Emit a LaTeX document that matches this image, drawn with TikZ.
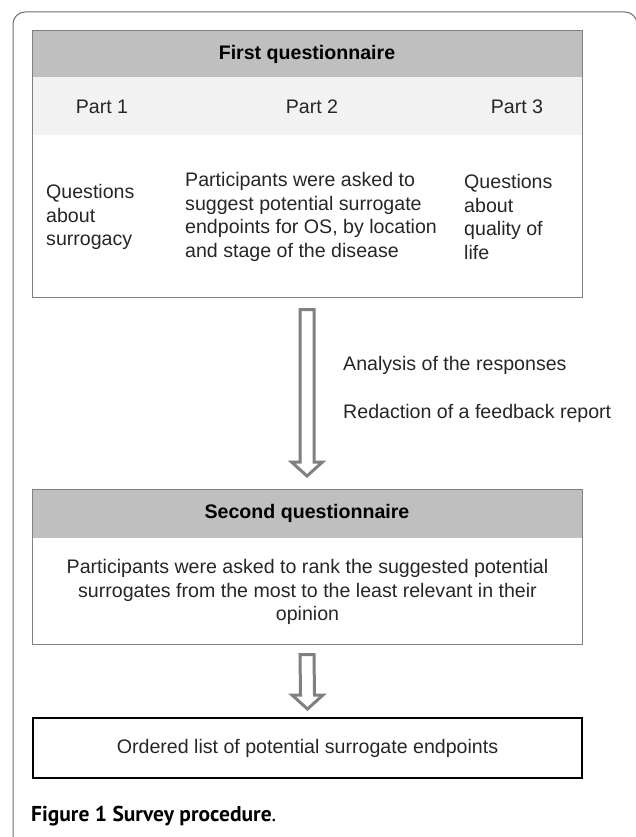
\documentclass[tikz,border=0pt]{standalone}
\usepackage{fontspec}
\setmainfont{Liberation Sans}
\newfontfamily\captionfont{PT Sans}
\usetikzlibrary{calc,positioning}

\definecolor{framegray}{RGB}{110,110,110}
\definecolor{boxgray}{RGB}{128,128,128}
\definecolor{headgray}{RGB}{191,191,191}
\definecolor{bandgray}{RGB}{242,242,242}
\definecolor{textgray}{RGB}{38,38,38}

\tikzset{
  bodytext/.style={font=\fontsize{19.6}{23.8}\selectfont, text=textgray, inner sep=0pt},
  headbar/.style={fill=headgray, font=\fontsize{19.6}{23.8}\selectfont\bfseries,
    inner sep=0pt, outer sep=0pt, minimum width=550pt},
  partbar/.style={fill=bandgray, inner sep=0pt, outer sep=0pt, minimum width=550pt},
  qbox/.style={draw=boxgray, line width=1pt, inner sep=0pt, outer sep=0pt, minimum width=550pt},
  flowarrow/.style={draw=boxgray, line width=3pt, fill=white, line join=miter}
}

% Hollow block arrow from the top of its shaft (#1) to its tip (#2)
\newcommand{\hollowarrow}[2]{%
  \draw[flowarrow] ($(#1)+(-7,0)$) -- ($(#1)+(7,0)$) -- ($(#2)+(7,-14)$)
    -- ($(#2)+(15.5,-14)$) -- (#2) -- ($(#2)+(-15.5,-14)$) -- ($(#2)+(-7,-14)$) -- cycle;}

\begin{document}
\begin{tikzpicture}[x=1pt,y=-1pt]

    % Fix the page to the size of the figure
    \useasboundingbox (0,0) rectangle (635,837);

    % Outer frame of the figure, open at the bottom
    \draw[framegray, line width=1pt, rounded corners=12pt] (13,840) -- (13,12) -- (637,12) -- (637,840);

    % First questionnaire: header, band with the parts, then the border
    \node[headbar, minimum height=46pt] (q1head) at (307,54) {First questionnaire};
    \node[partbar, minimum height=58pt, below=0pt of q1head] (q1parts) {};
    \node[qbox, minimum height=266pt, anchor=north] (q1) at (q1head.north) {};

    % Labels of the three parts
    \node[bodytext] (part1) at (102,107) {Part 1};
    \node[bodytext] (part2) at (312,107) {Part 2};
    \node[bodytext] (part3) at (517,107) {Part 3};

    % Contents of the three parts
    \node[bodytext, anchor=west, align=left] (col1) at (46,217) {Questions\\about\\surrogacy};
    \node[bodytext, anchor=west, align=left] (col2) at (185,217)
        {Participants were asked to\\suggest potential surrogate\\endpoints for OS, by location\\and stage of the disease};
    \node[bodytext, anchor=west, align=left] (col3) at (464,217) {Questions\\about\\quality of\\life};

    % Second questionnaire
    \node[headbar, minimum height=49pt] (q2head) at (307,513.5) {Second questionnaire};
    \node[qbox, minimum height=155pt, anchor=north] (q2) at (q2head.north) {};
    \node[bodytext, align=center] (q2text) at (307.5,592)
        {Participants were asked to rank the suggested potential\\surrogates from the most to the least relevant in their\\opinion};

    % Final result
    \node[qbox, bodytext, draw=black, line width=1.6pt, minimum width=549pt, minimum height=60pt] (result)
        at (307.5,748) {Ordered list of potential surrogate endpoints};

    % Arrows between the steps
    \coordinate (a1top) at ($(q1.south)+(0,12.5)$);
    \coordinate (a1tip) at ($(q2.north)+(0,-13)$);
    \hollowarrow{a1top}{a1tip}; % first to second questionnaire
    \coordinate (a2top) at ($(q2.south)+(0,10.5)$);
    \coordinate (a2tip) at ($(result.north)+(0,-9)$);
    \hollowarrow{a2top}{a2tip}; % second questionnaire to result

    % Steps done between the two questionnaires
    \node[bodytext, anchor=west] (analysis) at (343,365) {Analysis of the responses};
    \node[bodytext, anchor=west] (feedback) at (343,413) {Redaction of a feedback report};

    % Caption
    \node[anchor=west, inner sep=0pt, font=\captionfont\fontsize{21.5}{25}\selectfont] (caption)
        at (31,816) {\textbf{Figure 1 Survey procedure}.};

\end{tikzpicture}
\end{document}
